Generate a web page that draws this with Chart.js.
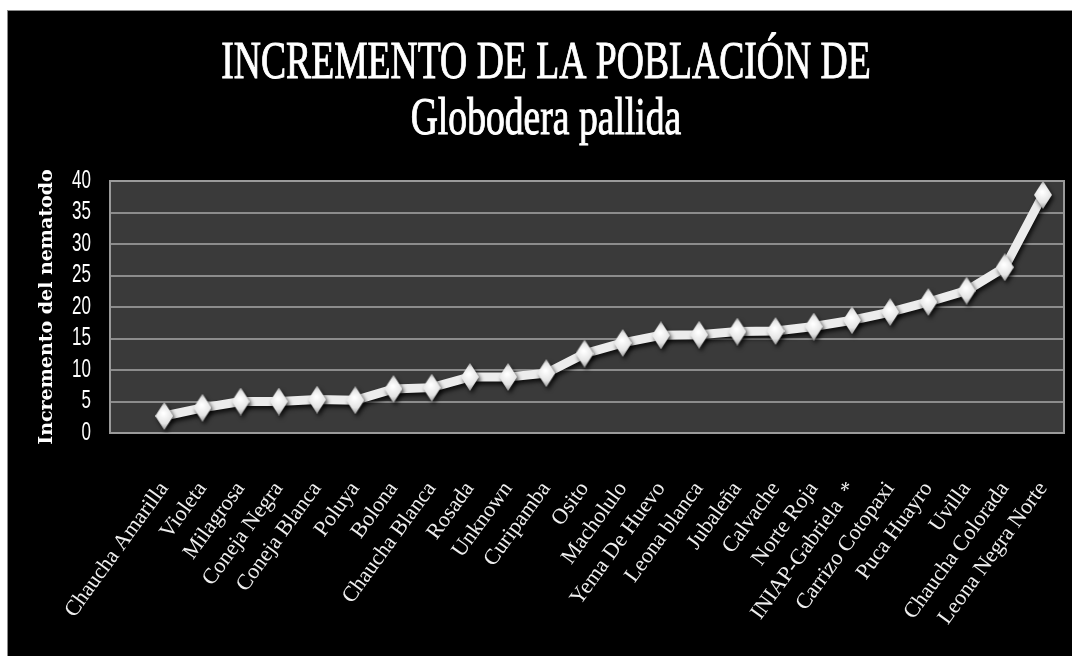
<!DOCTYPE html>
<html lang="es">
<head>
    <meta charset="UTF-8">
    <meta name="viewport" content="width=device-width, initial-scale=1.0">
    <script src="https://cdn.jsdelivr.net/npm/chart.js@4.4.0/dist/chart.umd.min.js"></script>
    <title>Incremento de la población de Globodera pallida</title>
    <style>
        body{margin:0; background:#fff;}
        #wrap{position:absolute; left:7px; top:10px; width:1064px; height:645px; background:#000; border-left:1px solid #8a8a8a; border-top:1px solid #8a8a8a;}
    </style>
</head>
<body>
    <div id="wrap">
        <canvas id="myChart"></canvas>
    </div>
    <script>
        const variedades = ['Chaucha Amarilla','Violeta','Milagrosa','Coneja Negra','Coneja Blanca','Poluya','Bolona','Chaucha Blanca','Rosada','Unknown','Curipamba','Osito','Macholulo','Yema De Huevo','Leona blanca','Jubaleña','Calvache','Norte Roja','INIAP-Gabriela  *','Carrizo Cotopaxi','Puca Huayro','Uvilla','Chaucha Colorada','Leona Negra Norte']
        const incremento = [2.7, 4.0, 5.0, 5.0, 5.3, 5.2, 7.0, 7.2, 8.9, 8.9, 9.5, 12.6, 14.3, 15.5, 15.6, 16.1, 16.2, 16.9, 17.9, 19.2, 20.8, 22.6, 26.3, 37.8]
        const yTicks = [0, 5, 10, 15, 20, 25, 30, 35, 40]
        const tituloLineas = ['INCREMENTO DE LA POBLACIÓN DE', 'Globodera pallida']
        const tituloEje = 'Incremento del nematodo'

        // diamante alto, como el marcador de Excel
        function diamante(w, h){
            const c = document.createElement('canvas')
            c.width = w; c.height = h
            const g = c.getContext('2d')
            const grad = g.createRadialGradient(w*0.45, h*0.4, 1, w/2, h/2, h/2)
            grad.addColorStop(0, '#ffffff')
            grad.addColorStop(0.6, '#e4e4e4')
            grad.addColorStop(1, '#9a9a9a')
            g.fillStyle = grad
            g.beginPath()
            g.moveTo(w/2, 0); g.lineTo(w, h/2); g.lineTo(w/2, h); g.lineTo(0, h/2)
            g.closePath()
            g.fill()
            return c
        }

        const fondoPlot = {
            id:'fondoPlot',
            beforeDraw(chart){
                const {ctx, chartArea:a} = chart
                ctx.save()
                ctx.fillStyle = '#3a3a3a'
                ctx.fillRect(a.left, a.top, a.right-a.left, a.bottom-a.top)
                ctx.restore()
            },
            beforeDatasetsDraw(chart){
                const {ctx, chartArea:a} = chart
                ctx.save()
                ctx.strokeStyle = '#9a9a9a'
                ctx.lineWidth = 2
                ctx.strokeRect(a.left, a.top, a.right-a.left, a.bottom-a.top)
                ctx.restore()
                // sombra de la serie
                ctx.save()
                ctx.shadowColor = 'rgba(0,0,0,0.75)'
                ctx.shadowBlur = 4
                ctx.shadowOffsetX = 2
                ctx.shadowOffsetY = 3
            },
            afterDatasetsDraw(chart){
                chart.ctx.restore()
            }
        }

        // textos estrechos: titulo y numeros del eje Y
        const textoAngosto = {
            id:'textoAngosto',
            afterDraw(chart){
                const ctx = chart.ctx
                const cx = chart.width/2 + 6
                const bases = [67, 123]
                ctx.save()
                ctx.fillStyle = '#ffffff'
                ctx.strokeStyle = '#ffffff'
                ctx.lineWidth = 1
                ctx.font = '53px "Liberation Serif", "Times New Roman", serif'
                ctx.textAlign = 'center'
                ctx.textBaseline = 'alphabetic'
                tituloLineas.forEach(function(t, i){
                    ctx.save()
                    ctx.translate(cx, bases[i])
                    ctx.scale(0.71, 1)
                    ctx.fillText(t, 0, 0)
                    ctx.strokeText(t, 0, 0)
                    ctx.restore()
                })

                const ys = chart.scales.y
                ctx.font = '25px "Liberation Sans", Arial, sans-serif'
                ctx.textAlign = 'right'
                ctx.textBaseline = 'middle'
                yTicks.forEach(function(v){
                    ctx.save()
                    ctx.translate(chart.chartArea.left - 19, ys.getPixelForValue(v))
                    ctx.scale(0.68, 1)
                    ctx.fillText(String(v), 0, 0)
                    ctx.restore()
                })
                ctx.restore()
            }
        }

        const puntos = incremento.map(function(v, i){ return {x:i, y:v} })

        const ctx = document.getElementById('myChart').getContext('2d')
        const myChart = new Chart(ctx, {
            type:'line',
            data:{
                datasets:[{
                    label:'Incremento',
                    data:puntos,
                    borderColor:'#ececec',
                    borderWidth:9,
                    tension:0,
                    pointStyle:diamante(18, 28),
                    pointRadius:10,
                    pointHoverRadius:10
                }]
            },
            plugins:[fondoPlot, textoAngosto],
            options:{
                responsive:true,
                maintainAspectRatio:false,
                animation:false,
                layout:{autoPadding:false, padding:{top:170, right:8, bottom:0, left:0}},
                plugins:{
                    legend:{display:false},
                    tooltip:{enabled:false}
                },
                scales:{
                    x:{
                        type:'linear',
                        min:-1.42,
                        max:23.55,
                        afterFit:function(scale){
                            scale.height = 223
                            scale.paddingLeft = 0
                            scale.paddingRight = 0
                        },
                        grid:{display:false},
                        border:{display:false},
                        ticks:{
                            stepSize:1,
                            autoSkip:false,
                            includeBounds:false,
                            maxTicksLimit:60,
                            minRotation:54,
                            maxRotation:54,
                            padding:36,
                            color:'#eeeeee',
                            font:{family:'"Liberation Serif", "Times New Roman", serif', size:22},
                            callback:function(v){
                                return Number.isInteger(v) && variedades[v] ? variedades[v] : ''
                            }
                        }
                    },
                    y:{
                        min:0,
                        max:40,
                        afterBuildTicks:function(scale){
                            scale.ticks = yTicks.map(function(v){ return {value:v} })
                        },
                        afterFit:function(scale){ scale.width = 102 },
                        grid:{color:'#8c8c8c', lineWidth:2, drawTicks:false},
                        border:{display:false},
                        ticks:{display:false, autoSkip:false},
                        title:{
                            display:true,
                            text:tituloEje,
                            color:'#ffffff',
                            padding:{top:28, bottom:0},
                            font:{family:'"DejaVu Serif", serif', size:19, weight:'bold'}
                        }
                    }
                }
            }
        })//chart
    </script>
</body>
</html>
